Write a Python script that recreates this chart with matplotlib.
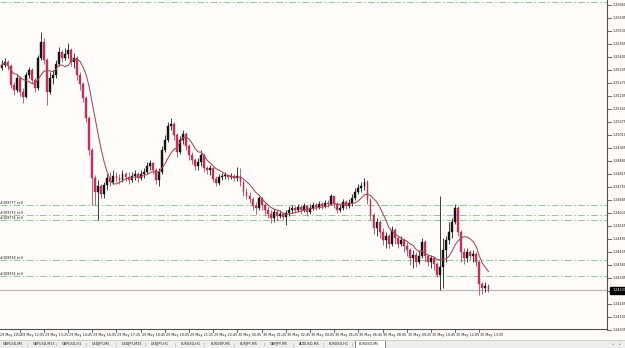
import matplotlib
matplotlib.use("Agg")
import matplotlib.pyplot as plt
import matplotlib.transforms as mtransforms
import numpy as np
import pandas as pd

# ---------------- data (EURUSD) ----------------
first_open = 1.25345
closes = [1.25360, 1.25375, 1.25355, 1.25260, 1.25235, 1.25295, 1.25225, 1.25200, 1.25310, 1.25335,
          1.25285, 1.25245, 1.25395, 1.25475, 1.25385, 1.25225, 1.25295, 1.25310, 1.25365, 1.25425,
          1.25395, 1.25415, 1.25435, 1.25375, 1.25395, 1.25310, 1.25265, 1.25195, 1.25095, 1.24935,
          1.24795, 1.24725, 1.24755, 1.24715, 1.24760, 1.24795, 1.24775, 1.24805, 1.24795, 1.24785,
          1.24815, 1.24800, 1.24785, 1.24805, 1.24815, 1.24795, 1.24815, 1.24825, 1.24855, 1.24870,
          1.24835, 1.24785, 1.24825, 1.24935, 1.24985, 1.25055, 1.25065, 1.25010, 1.24925, 1.24985,
          1.25015, 1.24955, 1.24910, 1.24885, 1.24855, 1.24875, 1.24910, 1.24845, 1.24835, 1.24845,
          1.24790, 1.24770, 1.24800, 1.24805, 1.24810, 1.24800, 1.24805, 1.24795, 1.24805, 1.24775,
          1.24725, 1.24705, 1.24690, 1.24655, 1.24645, 1.24695, 1.24660, 1.24635, 1.24615, 1.24595,
          1.24625, 1.24605, 1.24615, 1.24600, 1.24620, 1.24635, 1.24645, 1.24635, 1.24650, 1.24635,
          1.24655, 1.24625, 1.24645, 1.24660, 1.24650, 1.24665, 1.24655, 1.24670, 1.24665, 1.24705,
          1.24665, 1.24635, 1.24645, 1.24675, 1.24655, 1.24670, 1.24695, 1.24725, 1.24745, 1.24755,
          1.24775, 1.24685, 1.24610, 1.24545, 1.24575, 1.24525, 1.24485, 1.24505, 1.24465, 1.24535,
          1.24495, 1.24465, 1.24485, 1.24455, 1.24435, 1.24395, 1.24410, 1.24375, 1.24405, 1.24475,
          1.24405, 1.24375, 1.24395, 1.24365, 1.24310, 1.24350, 1.24435, 1.24485, 1.24525, 1.24575,
          1.24645, 1.24525, 1.24425, 1.24395, 1.24425, 1.24405, 1.24415, 1.24375, 1.24265, 1.24245,
          1.24255, 1.24233]
highs = [1.25385, 1.25395, 1.25385, 1.25365, 1.25275, 1.25315, 1.25305, 1.25245, 1.25325, 1.25350,
         1.25345, 1.25295, 1.25410, 1.25525, 1.25495, 1.25395, 1.25325, 1.25335, 1.25385, 1.25450,
         1.25435, 1.25445, 1.25470, 1.25445, 1.25420, 1.25405, 1.25325, 1.25275, 1.25205, 1.25105,
         1.24945, 1.24810, 1.24785, 1.24765, 1.24775, 1.24815, 1.24825, 1.24835, 1.24825, 1.24815,
         1.24835, 1.24825, 1.24825, 1.24825, 1.24835, 1.24825, 1.24835, 1.24845, 1.24875, 1.24885,
         1.24875, 1.24845, 1.24845, 1.24955, 1.25010, 1.25075, 1.25095, 1.25075, 1.25020, 1.25005,
         1.25035, 1.25025, 1.24965, 1.24925, 1.24895, 1.24895, 1.24935, 1.24920, 1.24855, 1.24860,
         1.24850, 1.24805, 1.24815, 1.24820, 1.24825, 1.24815, 1.24820, 1.24815, 1.24850, 1.24845,
         1.24785, 1.24745, 1.24725, 1.24700, 1.24675, 1.24705, 1.24700, 1.24670, 1.24650, 1.24635,
         1.24640, 1.24635, 1.24635, 1.24625, 1.24635, 1.24655, 1.24660, 1.24655, 1.24665, 1.24660,
         1.24670, 1.24660, 1.24665, 1.24675, 1.24670, 1.24680, 1.24675, 1.24685, 1.24685, 1.24715,
         1.24705, 1.24675, 1.24665, 1.24690, 1.24685, 1.24690, 1.24715, 1.24745, 1.24765, 1.24775,
         1.24795, 1.24785, 1.24695, 1.24620, 1.24595, 1.24585, 1.24545, 1.24525, 1.24515, 1.24555,
         1.24545, 1.24505, 1.24505, 1.24495, 1.24475, 1.24445, 1.24435, 1.24425, 1.24435, 1.24495,
         1.24485, 1.24415, 1.24410, 1.24395, 1.24375, 1.24705, 1.24495, 1.24505, 1.24575, 1.24595,
         1.24665, 1.24655, 1.24535, 1.24445, 1.24445, 1.24435, 1.24435, 1.24425, 1.24385, 1.24275,
         1.24275, 1.24265]
lows = [1.25335, 1.25350, 1.25335, 1.25245, 1.25210, 1.25225, 1.25205, 1.25170, 1.25195, 1.25295,
        1.25265, 1.25225, 1.25235, 1.25385, 1.25365, 1.25160, 1.25215, 1.25265, 1.25295, 1.25355,
        1.25375, 1.25385, 1.25395, 1.25355, 1.25345, 1.25285, 1.25235, 1.25175, 1.25075, 1.24910,
        1.24660, 1.24660, 1.24585, 1.24695, 1.24695, 1.24735, 1.24755, 1.24765, 1.24775, 1.24765,
        1.24775, 1.24780, 1.24765, 1.24775, 1.24785, 1.24775, 1.24785, 1.24795, 1.24815, 1.24835,
        1.24815, 1.24765, 1.24755, 1.24815, 1.24925, 1.24975, 1.25035, 1.24985, 1.24900, 1.24915,
        1.24965, 1.24935, 1.24885, 1.24865, 1.24835, 1.24835, 1.24855, 1.24825, 1.24815, 1.24810,
        1.24775, 1.24755, 1.24760, 1.24785, 1.24790, 1.24785, 1.24790, 1.24780, 1.24780, 1.24755,
        1.24705, 1.24690, 1.24670, 1.24635, 1.24615, 1.24635, 1.24635, 1.24610, 1.24595, 1.24570,
        1.24575, 1.24580, 1.24595, 1.24585, 1.24560, 1.24605, 1.24620, 1.24620, 1.24625, 1.24615,
        1.24625, 1.24605, 1.24615, 1.24635, 1.24635, 1.24640, 1.24640, 1.24645, 1.24650, 1.24660,
        1.24645, 1.24620, 1.24625, 1.24635, 1.24640, 1.24645, 1.24655, 1.24685, 1.24715, 1.24725,
        1.24735, 1.24665, 1.24585, 1.24515, 1.24505, 1.24495, 1.24460, 1.24445, 1.24445, 1.24455,
        1.24465, 1.24445, 1.24455, 1.24425, 1.24405, 1.24360, 1.24345, 1.24350, 1.24365, 1.24395,
        1.24375, 1.24355, 1.24345, 1.24335, 1.24300, 1.24235, 1.24245, 1.24375, 1.24465, 1.24495,
        1.24565, 1.24505, 1.24375, 1.24365, 1.24375, 1.24385, 1.24375, 1.24355, 1.24210, 1.24215,
        1.24225, 1.24225]
ma_period = 8

order_prices = [1.25676, 1.24660, 1.24610, 1.24585, 1.24385, 1.24305]
order_labels = ["", "#309777 sell", "#309772 sell", "#309774 sell", "#309918 sell", "#309974 sell"]

price_ticks = ["1.25660", "1.25595", "1.25530", "1.25465", "1.25400", "1.25335", "1.25270",
               "1.25205", "1.25140", "1.25075", "1.25010", "1.24945", "1.24880", "1.24815",
               "1.24750", "1.24685", "1.24620", "1.24555", "1.24490", "1.24425", "1.24360",
               "1.24295", "1.24230", "1.24165", "1.24100", "1.24035"]
time_first = "29 May 2012"
time_labels = ["29 May 12:05", "29 May 13:25", "29 May 14:45", "29 May 16:05", "29 May 17:25",
               "29 May 18:45", "29 May 20:05", "29 May 21:25", "29 May 22:45", "30 May 00:05",
               "30 May 01:25", "30 May 02:45", "30 May 04:05", "30 May 05:25", "30 May 06:45",
               "30 May 08:05", "30 May 09:25", "30 May 10:45", "30 May 12:05", "30 May 13:25"]
tabs = ["GBPUSD,M5", "GBPUSD,M15", "GBPUSD,H1", "USDJPY,M5", "USDJPY,M15", "USDJPY,H1",
        "EURUSD,H1", "EURGBP,M5", "EURJPY,M5", "GBPJPY,M5", "AUDUSD,M5", "EURUSD,H1", "EURUSD,M5"]
active_tab = "EURUSD,M5"

# ---------------- figure ----------------
W, H = 625, 348
BG = "#FFFCF9"
FS = 2.45
TXT = "#202020"
fig = plt.figure(figsize=(W / 100, H / 100), dpi=100)
fig.patch.set_facecolor(BG)

def fx(px):
    return px / W

def fy(py):
    return 1 - py / H

ax_right, ax_bottom = 607, 329
ax = fig.add_axes([0, fy(ax_bottom), fx(ax_right), ax_bottom / H])
ax.set_facecolor(BG)
ax.set_xlim(-0.5, 200.2)
ax.set_ylim(1.24040, 1.25685)
ax.set_xticks([])
ax.set_yticks([])
for s in ["top", "left"]:
    ax.spines[s].set_visible(False)
for s in ["bottom", "right"]:
    ax.spines[s].set_color("#505050")
    ax.spines[s].set_linewidth(0.8)

o = np.array([first_open] + closes[:-1])
c = np.array(closes)
h = np.array(highs)
l = np.array(lows)
x = np.arange(len(c))
up = c >= o

# order lines with labels
for p, lab in zip(order_prices, order_labels):
    ax.axhline(p, color="#96C896", lw=0.7, dashes=(7, 2.5, 1.5, 2.5), zorder=1)
    if lab:
        ax.text(-0.5, p, lab, fontsize=FS, color=TXT, va="bottom", ha="left", zorder=2)

# bid line
ax.axhline(closes[-1], color="#BDBDBD", lw=1.0, zorder=1)

# candles
ax.vlines(x[up], l[up], h[up], color="#1E1E1E", lw=0.6, zorder=3)
ax.vlines(x[~up], l[~up], h[~up], color="#B04868", lw=0.6, zorder=3)
bw = 0.62
ax.bar(x[up], np.maximum(c[up] - o[up], 0.00001), bottom=o[up], width=bw,
       color="#141414", edgecolor="#141414", lw=0.3, zorder=4)
ax.bar(x[~up], o[~up] - c[~up], bottom=c[~up], width=bw,
       color="#C8345E", edgecolor="#B02A52", lw=0.3, zorder=4)

# moving average
ma = pd.Series(closes).rolling(ma_period, min_periods=1).mean()
ax.plot(x, ma, color="#A84858", lw=0.75, zorder=5)

# price axis labels
btr = mtransforms.blended_transform_factory(ax.transAxes, ax.transData)
for t in price_ticks:
    v = float(t)
    ax.plot([1.0, 1.006], [v, v], color="#505050", lw=0.6, transform=btr, clip_on=False)
    ax.text(1.0085, v, t, fontsize=FS, color=TXT, va="center", ha="left",
            transform=btr, clip_on=False)

# current price box
ax.text(1.0085, closes[-1], "%.5f" % closes[-1], fontsize=FS, color="white", va="center",
        ha="left", transform=btr, clip_on=False, zorder=10,
        bbox=dict(boxstyle="square,pad=0.5", fc="black", ec="black"))

# time axis labels
ttr = mtransforms.blended_transform_factory(ax.transData, ax.transAxes)
tick_bars = [6 + 8 * k for k in range(len(time_labels))]
for b, t in zip(tick_bars, time_labels):
    ax.plot([b, b], [0, -0.008], color="#505050", lw=0.6, transform=ttr, clip_on=False)
    ax.text(b + 0.3, -0.019, t, fontsize=FS, color=TXT, va="center", ha="left",
            transform=ttr, clip_on=False)
fig.text(fx(0.5), fy(335), time_first, fontsize=FS, color=TXT, va="center", ha="left")

# tab bar
fig.patches.append(plt.Rectangle((0, 0), 1, fy(340), transform=fig.transFigure,
                                 fc="#F0EEEC", ec="none", zorder=0))
fig.add_artist(plt.Line2D([0, 1], [fy(340), fy(340)], transform=fig.transFigure,
                          color="#C8C8C8", lw=0.6))
for i, t in enumerate(tabs):
    x0 = 3 + 29.6 * i
    if t == active_tab and i == len(tabs) - 1:
        fig.patches.append(plt.Rectangle((fx(x0 - 3), fy(348)), fx(30), fy(340) - fy(348),
                                         transform=fig.transFigure, fc="white",
                                         ec="#707070", lw=0.6, zorder=1))
    else:
        fig.text(fx(x0 + 23.5), fy(344), "|", fontsize=FS, color="#808080", va="center")
    fig.text(fx(x0), fy(344), t, fontsize=FS, color=TXT, va="center", ha="left", zorder=2)
fig.text(fx(612), fy(344), "\u25C2", fontsize=FS, color="#707070", va="center")
fig.text(fx(619), fy(344), "\u25B8", fontsize=FS, color="#707070", va="center")

fig.savefig("out.png", dpi=100, facecolor=BG)
